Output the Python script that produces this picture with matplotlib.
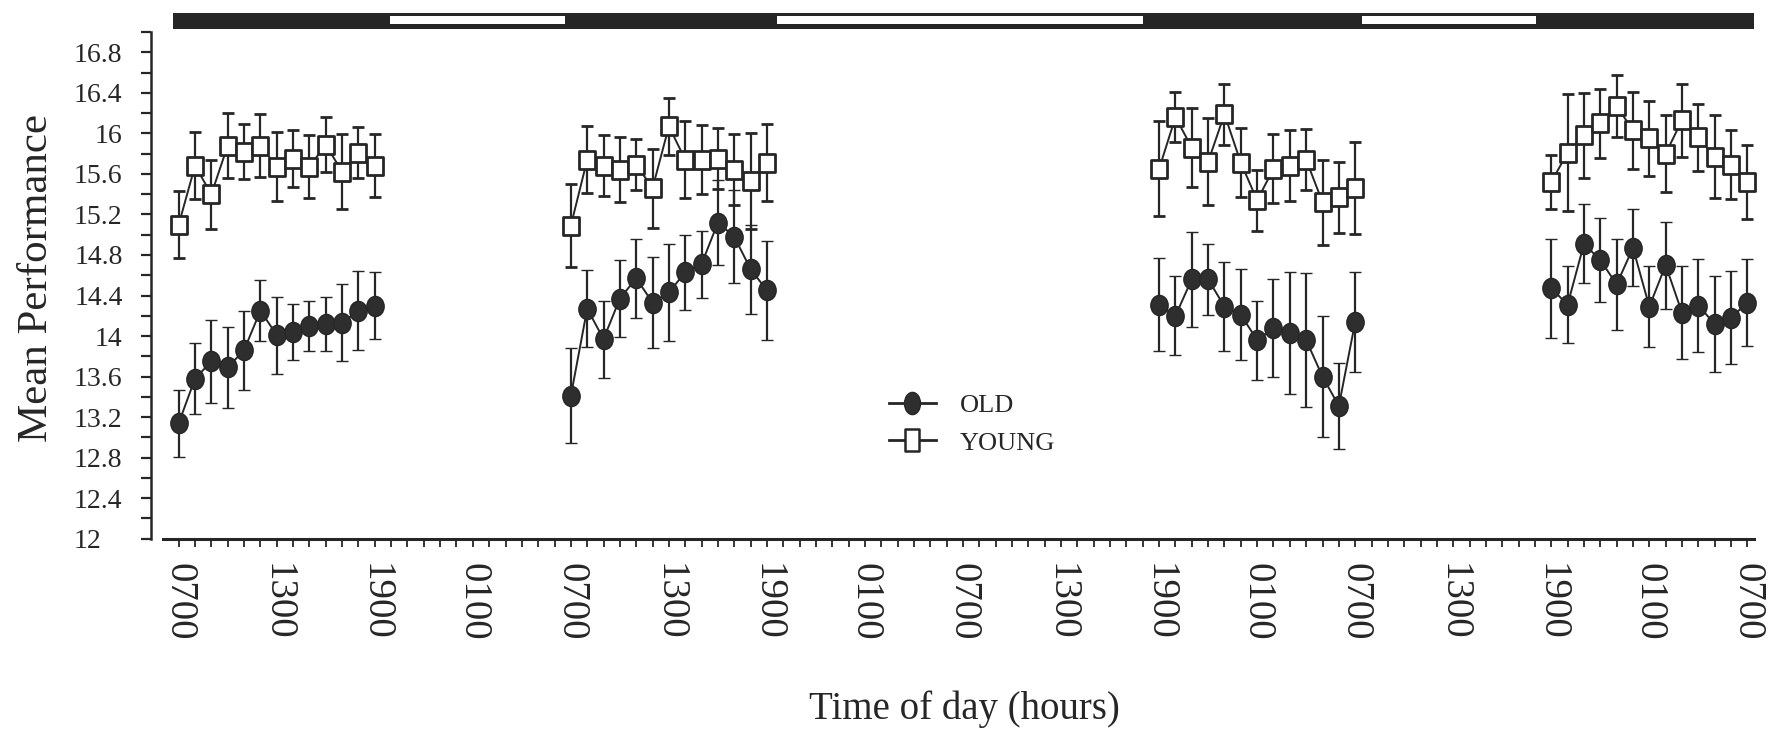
import matplotlib
matplotlib.use("Agg")
import matplotlib.pyplot as plt
from matplotlib.patches import Rectangle
from matplotlib.path import Path
from matplotlib.lines import Line2D
from matplotlib.ticker import FixedLocator
from matplotlib.transforms import ScaledTranslation

plt.rcParams['font.family'] = ['Liberation Serif', 'DejaVu Serif']

INK = '#262626'

# Sampling times in hours after 07:00 on the first day
hours_day1 = [0, 1, 2, 3, 4, 5, 6, 7, 8, 9, 10, 11, 12]
hours_day2 = [24, 25, 26, 27, 28, 29, 30, 31, 32, 33, 34, 35, 36]
hours_night3 = [60, 61, 62, 63, 64, 65, 66, 67, 68, 69, 70, 71, 72]
hours_night4 = [84, 85, 86, 87, 88, 89, 90, 91, 92, 93, 94, 95, 96]

# Mean performance and error for the OLD group
old_day1 = [13.14, 13.58, 13.75, 13.69, 13.86, 14.25, 14.01, 14.04, 14.10, 14.12, 14.13, 14.25, 14.30]
old_day1_err = [0.33, 0.35, 0.41, 0.40, 0.39, 0.30, 0.38, 0.28, 0.25, 0.27, 0.38, 0.39, 0.33]
old_day2 = [13.41, 14.27, 13.97, 14.37, 14.57, 14.33, 14.43, 14.63, 14.71, 15.12, 14.98, 14.66, 14.45]
old_day2_err = [0.47, 0.38, 0.38, 0.38, 0.39, 0.45, 0.48, 0.37, 0.33, 0.42, 0.46, 0.44, 0.49]
old_night3 = [14.31, 14.20, 14.56, 14.56, 14.29, 14.21, 13.96, 14.08, 14.03, 13.96, 13.60, 13.31, 14.14]
old_night3_err = [0.46, 0.39, 0.47, 0.35, 0.44, 0.45, 0.39, 0.48, 0.60, 0.66, 0.60, 0.42, 0.49]
old_night4 = [14.47, 14.31, 14.91, 14.75, 14.51, 14.87, 14.29, 14.70, 14.23, 14.30, 14.12, 14.18, 14.33]
old_night4_err = [0.49, 0.38, 0.39, 0.41, 0.45, 0.38, 0.40, 0.43, 0.46, 0.46, 0.47, 0.46, 0.43]

# Mean performance and error for the YOUNG group
young_day1 = [15.10, 15.68, 15.40, 15.88, 15.82, 15.88, 15.67, 15.75, 15.67, 15.89, 15.62, 15.81, 15.68]
young_day1_err = [0.33, 0.33, 0.34, 0.32, 0.27, 0.31, 0.34, 0.28, 0.31, 0.27, 0.37, 0.25, 0.31]
young_day2 = [15.09, 15.74, 15.68, 15.64, 15.69, 15.46, 16.07, 15.74, 15.74, 15.75, 15.64, 15.53, 15.71]
young_day2_err = [0.41, 0.33, 0.30, 0.32, 0.25, 0.39, 0.28, 0.38, 0.34, 0.30, 0.35, 0.47, 0.38]
young_night3 = [15.65, 16.16, 15.86, 15.72, 16.19, 15.71, 15.34, 15.65, 15.68, 15.74, 15.32, 15.37, 15.46]
young_night3_err = [0.47, 0.25, 0.39, 0.43, 0.30, 0.34, 0.30, 0.34, 0.35, 0.30, 0.42, 0.35, 0.45]
young_night4 = [15.52, 15.81, 15.98, 16.10, 16.27, 16.03, 15.95, 15.80, 16.13, 15.96, 15.77, 15.69, 15.52]
young_night4_err = [0.27, 0.58, 0.42, 0.34, 0.31, 0.38, 0.37, 0.38, 0.36, 0.33, 0.41, 0.34, 0.37]

# Clock-time tick labels every six hours
tick_hours = [0, 6, 12, 18, 24, 30, 36, 42, 48, 54, 60, 66, 72, 78, 84, 90, 96]
tick_labels = ["0700", "1300", "1900", "0100", "0700", "1300", "1900", "0100", "0700",
               "1300", "1900", "0100", "0700", "1300", "1900", "0100", "0700"]

# Light/dark schedule bar drawn above the data
schedule_edges = [-0.37, 12.95, 23.8, 36.6, 59.15, 72.4, 83.2, 96.4]
schedule_phase = ["dark", "light", "dark", "light", "dark", "light", "dark"]


def ellipse_marker(aspect):
    circ = Path.unit_circle()
    return Path(circ.vertices * [aspect, 1.0], circ.codes)


def rect_marker(aspect):
    verts = [(-aspect, -1), (aspect, -1), (aspect, 1), (-aspect, 1), (-aspect, -1)]
    codes = [Path.MOVETO, Path.LINETO, Path.LINETO, Path.LINETO, Path.CLOSEPOLY]
    return Path(verts, codes)


W, H = 1778, 731
fig = plt.figure(figsize=(W / 100, H / 100), dpi=100)
ax_left, ax_bottom = 151, 192.3
ax_w, ax_h = 1612.7, 528.96
ax = fig.add_axes([ax_left / W, ax_bottom / H, ax_w / W, ax_h / H])

ax.set_xlim(-1.695, 97.0)
ax.set_ylim(12, 17.22)

circle_m = ellipse_marker(0.86)
square_m = rect_marker(0.9)

err_style = dict(color=INK, ecolor=INK, lw=1.4, elinewidth=1.6,
                 capsize=4.6, capthick=2.2)

groups = [
    (young_day1, young_day1_err, hours_day1),
    (young_day2, young_day2_err, hours_day2),
    (young_night3, young_night3_err, hours_night3),
    (young_night4, young_night4_err, hours_night4),
]
for vals, errs, hrs in groups:
    ax.errorbar(hrs, vals, yerr=errs, marker=square_m, ms=13.5, mfc='white',
                mec=INK, mew=2.0, zorder=3, **err_style)

groups = [
    (old_day1, old_day1_err, hours_day1),
    (old_day2, old_day2_err, hours_day2),
    (old_night3, old_night3_err, hours_night3),
    (old_night4, old_night4_err, hours_night4),
]
for vals, errs, hrs in groups:
    ax.errorbar(hrs, vals, yerr=errs, marker=circle_m, ms=14.5, mfc='#2e2e2e',
                mec=INK, mew=1.0, zorder=4, **err_style)

# schedule bar
bar_lo, bar_hi = 17.03, 17.19
for x0, x1, phase in zip(schedule_edges[:-1], schedule_edges[1:], schedule_phase):
    ax.add_patch(Rectangle((x0, bar_lo), x1 - x0, bar_hi - bar_lo, facecolor=INK,
                           edgecolor='none', clip_on=False, zorder=5))
    if phase == "light":
        ax.add_patch(Rectangle((x0, bar_lo + 0.045), x1 - x0 - 0.15, bar_hi - bar_lo - 0.075,
                               facecolor='white', edgecolor='none', clip_on=False, zorder=6))

# axes styling
for side in ("top", "right"):
    ax.spines[side].set_visible(False)
ax.spines["left"].set_bounds(12, 17.0)
ax.spines["bottom"].set_bounds(-0.95, 96.4)
ax.spines["left"].set_linewidth(1.8)
ax.spines["bottom"].set_linewidth(2.2)
ax.spines["left"].set_color(INK)
ax.spines["bottom"].set_color(INK)

yt = [12, 12.4, 12.8, 13.2, 13.6, 14, 14.4, 14.8, 15.2, 15.6, 16, 16.4, 16.8]
ax.set_yticks(yt)
ax.set_yticklabels(["12", "12.4", "12.8", "13.2", "13.6", "14", "14.4", "14.8",
                    "15.2", "15.6", "16", "16.4", "16.8"])
ax.yaxis.set_minor_locator(FixedLocator([12.2, 12.6, 13.0, 13.4, 13.8, 14.2, 14.6, 15.0,
                                         15.4, 15.8, 16.2, 16.6, 17.0]))
ax.tick_params(axis='y', which='both', direction='out', length=7.5, width=1.6,
               color=INK, labelsize=20, labelcolor=INK, pad=13)

ax.set_xticks(tick_hours)
ax.set_xticklabels(tick_labels, rotation=-90, va='top', ha='center')
ax.xaxis.set_minor_locator(FixedLocator(list(range(0, 97))))
ax.tick_params(axis='x', which='both', direction='out', length=5.5, width=1.3,
               color=INK, labelsize=28, labelcolor=INK, pad=12)

# the bottom "12" label sits flush left with the other labels
lbl12 = ax.yaxis.get_major_ticks()[0].label1
lbl12.set_transform(lbl12.get_transform() + ScaledTranslation(-15 / 72, 0, fig.dpi_scale_trans))

ax.set_ylabel("Mean Performance", fontsize=31, color=INK)
ax.yaxis.label.set_va('center')
ax.yaxis.set_label_coords((37 - ax_left) / ax_w, (H - 278 - ax_bottom) / ax_h)

ax.set_xlabel("Time of day (hours)", fontsize=28, color=INK)
ax.xaxis.label.set_va('center')
ax.xaxis.set_label_coords((964 - ax_left) / ax_w, (H - 709 - ax_bottom) / ax_h)

handles = [
    Line2D([], [], color=INK, lw=2.0, marker=ellipse_marker(0.72), ms=16,
           mfc='#2e2e2e', mec=INK, mew=1.0),
    Line2D([], [], color=INK, lw=2.0, marker=rect_marker(0.62), ms=16,
           mfc='white', mec=INK, mew=1.8),
]
leg = ax.legend(handles, ["OLD", "YOUNG"], loc='center', frameon=False,
                bbox_to_anchor=((972 - ax_left) / ax_w, (H - 424 - ax_bottom) / ax_h),
                fontsize=19, handlelength=1.8, handletextpad=0.9, labelspacing=0.55)
for t in leg.get_texts():
    t.set_color(INK)

fig.savefig("out.png", dpi=100, facecolor='white')
